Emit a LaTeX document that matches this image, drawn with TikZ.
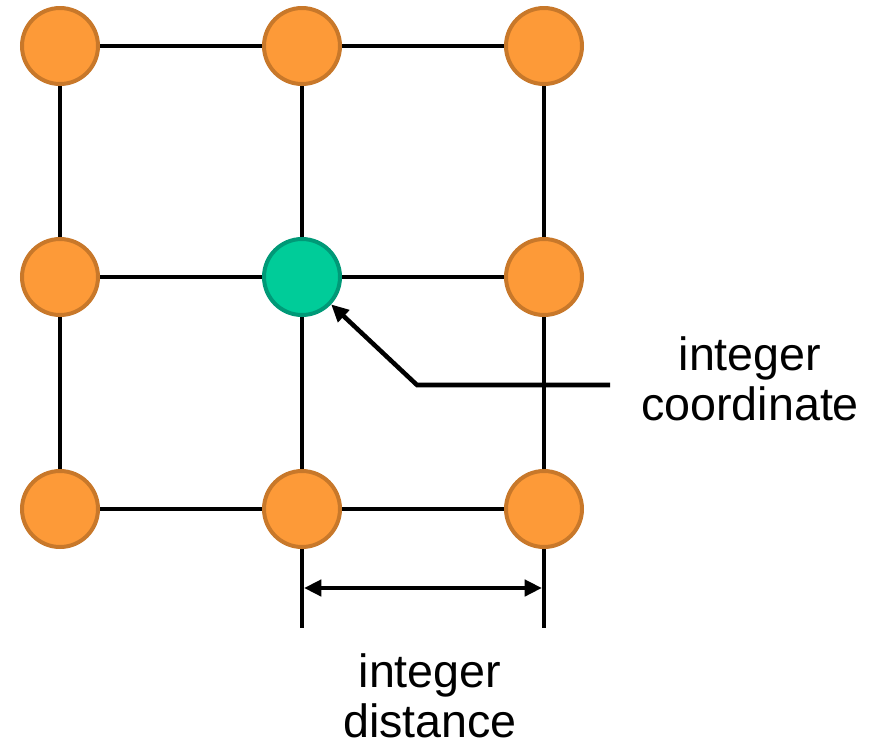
\documentclass[tikz,border=0pt]{standalone}
\usepackage{fontspec}
\setmainfont{Liberation Sans}
\usetikzlibrary{arrows.meta}
\definecolor{siteorange}{HTML}{FD9A38}
\definecolor{siteedge}{HTML}{C8782A}
\definecolor{sitegreen}{HTML}{00CC99}
\definecolor{greenedge}{HTML}{009977}

\begin{document}
\begin{tikzpicture}[x=0.75pt,y=-0.75pt,
    site/.style={circle,draw=siteedge,fill=siteorange,line width=3pt,minimum size=57pt,inner sep=0pt},
    origin/.style={site,draw=greenedge,fill=sitegreen},
    bond/.style={line width=3.4pt},
    tip/.style={-{Triangle[length=13pt,width=12pt]},line width=3.4pt},
    twotip/.style={{Triangle[length=13pt,width=12pt]}-{Triangle[length=13pt,width=12pt]},line width=3.4pt},
    caption/.style={font=\fontsize{35}{37.5}\selectfont,align=center,inner sep=0pt}]
    \useasboundingbox (0,0) rectangle (869,751);
    % lattice sites
    \node[site] (n11) at (60,46) {};
    \node[site] (n12) at (302,46) {};
    \node[site] (n13) at (544,46) {};
    \node[site] (n21) at (60,277) {};
    \node[origin] (n22) at (302,277) {};
    \node[site] (n23) at (544,277) {};
    \node[site] (n31) at (60,509) {};
    \node[site] (n32) at (302,509) {};
    \node[site] (n33) at (544,509) {};
    % bonds
    \draw[bond] (n11)--(n12) (n12)--(n13);
    \draw[bond] (n21)--(n22) (n22)--(n23);
    \draw[bond] (n31)--(n32) (n32)--(n33);
    \draw[bond] (n11)--(n21) (n21)--(n31);
    \draw[bond] (n12)--(n22) (n22)--(n32);
    \draw[bond] (n13)--(n23) (n23)--(n33);
    % dimension
    \coordinate (b2) at (302,628);
    \coordinate (b3) at (544,628);
    \coordinate (m2) at (304,588);
    \coordinate (m3) at (542,588);
    \draw[bond] (n32)--(b2);
    \draw[bond] (n33)--(b3);
    \draw[twotip] (m2)--(m3);
    \node[caption] (dist) at (430,696) {integer\\distance};
    % pointer
    \coordinate (p1) at (610,385);
    \coordinate (p2) at (417,385);
    \draw[tip] (p1)--(p2)--(n22);
    \node[caption] (coord) at (750,379) {integer\\coordinate};
\end{tikzpicture}
\end{document}
